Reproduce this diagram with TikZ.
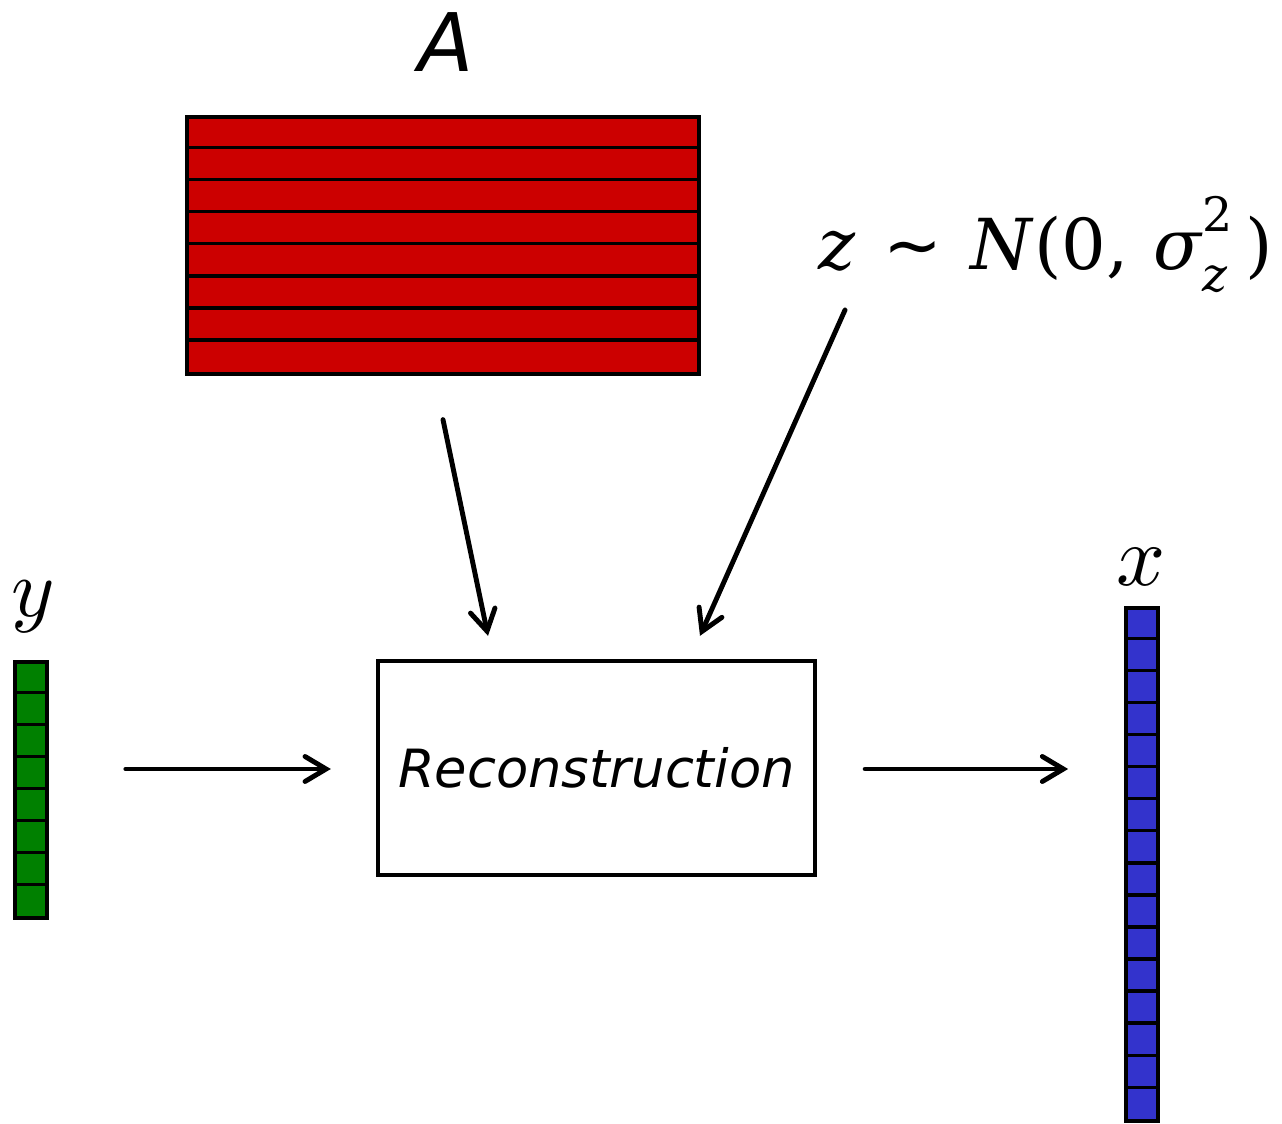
\documentclass[tikz,border=0pt]{standalone}
\usepackage{fontspec}
\usepackage{amsmath}
\usetikzlibrary{arrows.meta,positioning,calc}
\newfontfamily\dvsans{DejaVu Sans}
\newfontfamily\dvserif{DejaVu Serif}
\definecolor{MatRed}{RGB}{204,0,0}
\definecolor{VecGreen}{RGB}{0,128,0}
\definecolor{VecBlue}{RGB}{51,51,204}

\begin{document}
\begin{tikzpicture}[x=0.02cm,y=-0.02cm,
    cell/.style={draw=black,line width=1.9pt,inner sep=0pt},
    grid/.style={black,line width=1.9pt},
    recbox/.style={draw=black,line width=2.5pt,minimum width=8.74cm,
                   minimum height=4.28cm,inner sep=0pt},
    arr/.style={-{Straight Barb[length=0.42cm,width=0.5cm,line cap=round]},
                line width=2.8pt,line cap=round},
    lab/.style={inner sep=0pt}
  ]
  \useasboundingbox (0,0) rectangle (1282,1124);
  % measurement matrix
  \node[cell,fill=MatRed,minimum width=10.24cm,minimum height=5.14cm]
    (mat) at (443,245.5) {};
  \foreach \i in {1,...,7}
    \draw[grid] ($(mat.north west)+(0,\i*32.1)$) -- ($(mat.north east)+(0,\i*32.1)$);
  \node[lab,font=\dvsans\itshape\fontsize{46}{50}\selectfont] (Alab) at (446,42) {A};
  % noise
  \node[lab,anchor=base west,font=\dvserif\fontsize{40}{46}\selectfont] (zlab) at (818,270)
    {\textit{z}\hspace{0.4em}{\dvsans ∼}\hspace{0.4em}\textit{N}(0,\hspace{0.35em}\textit{σ}\makebox[0pt][l]{\raisebox{0.55em}{\fontsize{27}{30}\selectfont 2}}\raisebox{-0.3em}{\fontsize{27}{30}\selectfont\textit{z}}\hspace{0.25em})};
  % reconstruction block
  \node[recbox,font=\dvsans\itshape\fontsize{30}{34}\selectfont] (rec) at (596.5,768) {Reconstruction};
  % measurements y
  \node[cell,fill=VecGreen,minimum width=0.64cm,minimum height=5.12cm] (yv) at (31,790) {};
  \foreach \i in {1,...,7}
    \draw[grid] ($(yv.north west)+(0,\i*32)$) -- ($(yv.north east)+(0,\i*32)$);
  \node[lab,scale=4.7] (ylab) at (33,607) {$y$};
  % signal x
  \node[cell,fill=VecBlue,minimum width=0.64cm,minimum height=10.26cm] (xv) at (1142,864.5) {};
  \foreach \i in {1,...,15}
    \draw[grid] ($(xv.north west)+(0,\i*32.06)$) -- ($(xv.north east)+(0,\i*32.06)$);
  \node[lab,scale=4.9] (xlab) at (1141,567) {$x$};
  % connectors
  \draw[arr] ($(mat.south)+(0,44)$) -- ($(rec.north)+(-108.5,-23)$);
  \draw[arr] ($(zlab.base west)+(27,40)$) -- ($(rec.north)+(103.5,-23)$);
  \draw[arr] ($(rec.west)+(-250,1)$) -- ($(rec.west)+(-45,1)$);
  \draw[arr] ($(rec.east)+(48,1)$) -- ($(rec.east)+(251,1)$);
\end{tikzpicture}
\end{document}
